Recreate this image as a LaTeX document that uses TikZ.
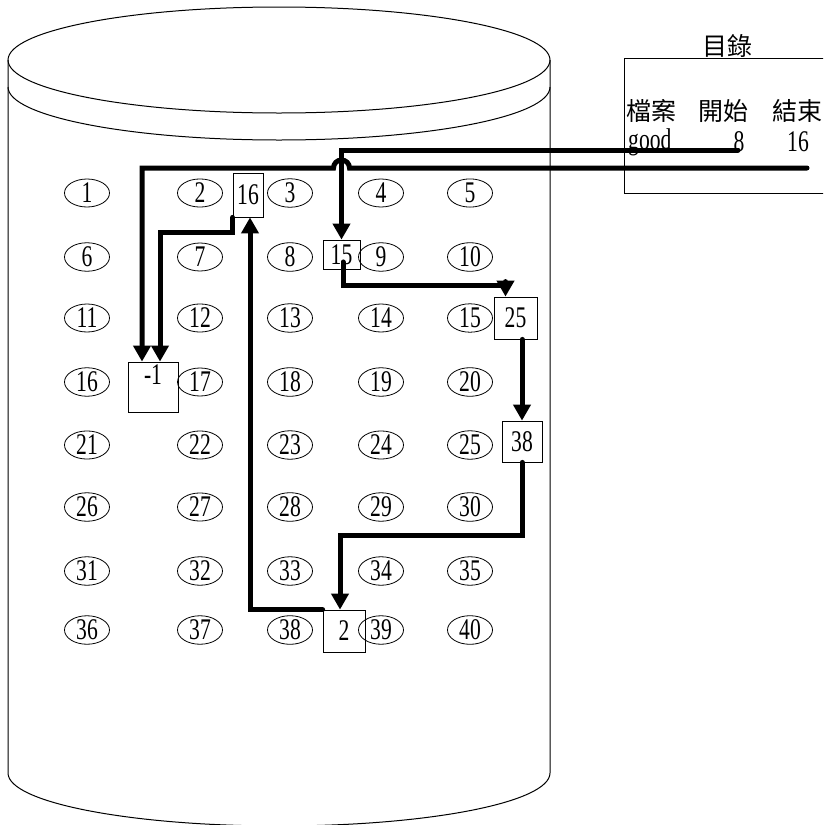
\documentclass[tikz,border=0pt]{standalone}
\usepackage{fontspec}
\setmainfont{Liberation Serif}[FakeStretch=0.72]
\newfontfamily\cjk{Noto Sans CJK TC}
\usetikzlibrary{positioning,arrows.meta,calc,shapes.geometric}
\newcommand{\numsize}{\fontsize{30}{32}\selectfont}
\newcommand{\cjksize}{\cjk\fontsize{25}{28}\selectfont}
\tikzset{
  cell/.style={draw,ellipse,line width=0.8pt,minimum width=45pt,minimum height=28pt,
    inner sep=0pt,font=\numsize},
  block/.style={draw,line width=0.8pt,inner sep=0pt,font=\numsize},
  arrow/.style={-{Triangle[length=16pt,width=17pt]},line width=5pt,line cap=round},
  outline/.style={line width=1pt},
  dirtext/.style={font=\cjksize,inner sep=0pt},
  dirval/.style={font=\numsize,inner sep=0pt,anchor=base}
}

\begin{document}
\begin{tikzpicture}[x=1pt,y=-1pt]
  \clip (0,0) rectangle (823,825);
  \draw[outline] (279,60) ellipse [x radius=271pt,y radius=53pt];
  \draw[outline] (8,87) arc [start angle=180,end angle=360,x radius=271pt,y radius=53pt];
  \draw[outline] (8,60) -- (8,773) arc [start angle=180,end angle=360,x radius=271pt,y radius=53pt] -- (550,60);

  \foreach \row/\yy in {0/193,1/257,2/318,3/382,4/445,5/507,6/571,7/630}{
    \foreach \col/\xx in {1/87,2/200,3/290,4/381,5/470}{
      \pgfmathtruncatemacro{\n}{\row*5+\col}
      \node[cell] (c\n) at (\xx,\yy) {\n};
    }
  }

  \node[draw,outline,minimum width=206pt,minimum height=135pt,anchor=north west] (dir) at (624,58) {};
  \node[dirtext] (title) at (727,46) {目錄};
  \node[dirtext] (hfile) at (651,111) {檔案};
  \node[dirtext] (hstart) at (723,111) {開始};
  \node[dirtext] (hend) at (797,111) {結束};
  \node[dirval,anchor=base west] (vname) at (628,149) {good};
  \node[dirval] (vstart) at (739,151) {8};
  \node[dirval] (vend) at (798,151) {16};
  \coordinate (from8) at (738,150);
  \coordinate (from16) at (807,168);

  \node[block,minimum width=30pt,minimum height=44pt] (b16) at (248,195) {16};
  \node[block,minimum width=37pt,minimum height=29pt] (b15) at (341.5,254.5) {15};
  \node[block,minimum width=43pt,minimum height=42pt] (b25) at (515.5,318) {25};
  \node[block,minimum width=40pt,minimum height=41pt] (b38) at (522,441.5) {38};
  \node[block,minimum width=42pt,minimum height=42pt] (b2) at (344,631) {2};
  \node[block,minimum width=50pt,minimum height=50pt] (bnil) at (153,387) {};
  \node[font=\numsize,inner sep=0pt,below=3pt of bnil.north] (nil) {-1};

  \draw[arrow] (from8) -| (b15.north);
  \draw[arrow] (from16) -- ($(b15.north |- from16)+(8,0)$)
    arc [start angle=0,end angle=180,radius=8pt] -| ($(bnil.north)+(-11,0)$);
  \draw[arrow] (b16.south west) -- ++(0,15) -| ($(bnil.north)+(7,0)$);
  \draw[arrow] ($(b15.center)+(1.5,7.5)$) -- ++(0,23) -| ($(b25.north)+(-10,0)$);
  \draw[arrow] (b38.north |- b25.south) -- (b38.north);
  \draw[arrow] (b38.south) -- ++(0,73) -| ($(b2.north)+(-4,0)$);
  \draw[arrow] (b2.north west) -| ($(b16.south)+(2,0)$);
\end{tikzpicture}
\end{document}
